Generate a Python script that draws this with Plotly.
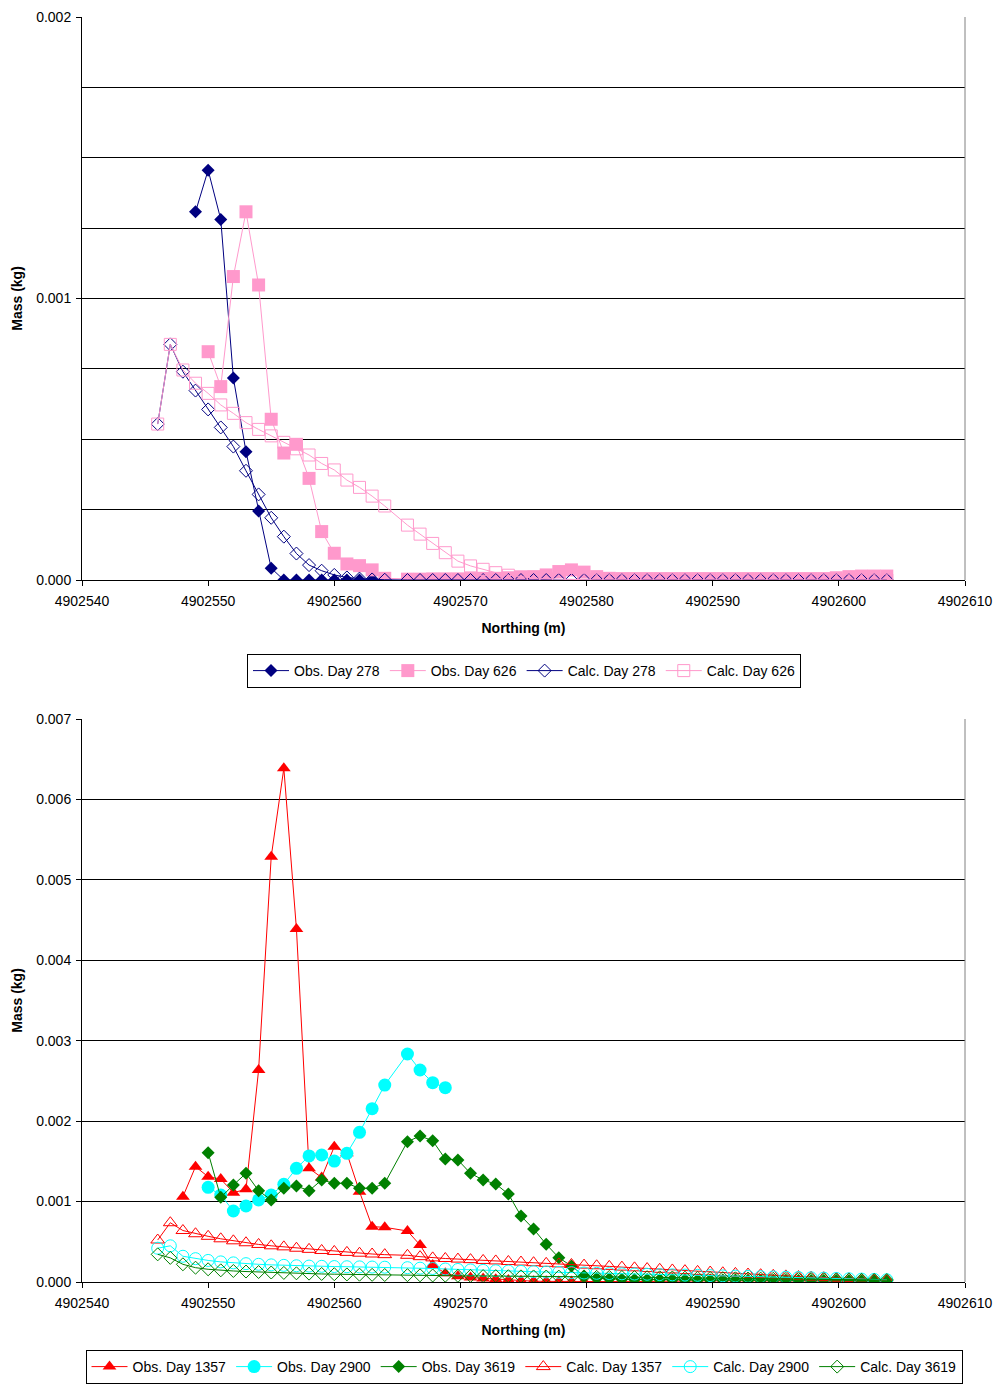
import plotly.graph_objects as go

# Northing positions of the sampling points (m)
NORTHING = [4902546, 4902547, 4902548, 4902549, 4902550, 4902551, 4902552, 4902553,
            4902554, 4902555, 4902556, 4902557, 4902558, 4902559, 4902560, 4902561,
            4902562, 4902563, 4902564,
            4902565.8, 4902566.8, 4902567.8, 4902568.8, 4902569.8, 4902570.8, 4902571.8,
            4902572.8, 4902573.8, 4902574.8, 4902575.8, 4902576.8, 4902577.8, 4902578.8,
            4902579.8, 4902580.8, 4902581.8, 4902582.8, 4902583.8, 4902584.8, 4902585.8,
            4902586.8, 4902587.8, 4902588.8, 4902589.8, 4902590.8, 4902591.8, 4902592.8,
            4902593.8, 4902594.8, 4902595.8, 4902596.8, 4902597.8, 4902598.8, 4902599.8,
            4902600.8, 4902601.8, 4902602.8, 4902603.8]

X_OBS_278 = NORTHING[3:18]
X_OBS_626 = NORTHING[4:]
X_OBS_1357 = NORTHING[2:]
X_OBS_2900 = NORTHING[4:23]
X_OBS_3619 = NORTHING[4:]

# Masses in grams (converted to kg for plotting)
OBS_278_G = [1.308, 1.456, 1.281, 0.718, 0.456, 0.245, 0.042, 0.0, 0.0, 0.0,
             0.0, 0.0, 0.0, 0.0, 0.0]
OBS_626_G = [0.811, 0.687, 1.078, 1.308, 1.048, 0.571, 0.451, 0.482, 0.361, 0.172,
             0.095, 0.057, 0.051, 0.036, 0.006,
             0.003, 0.003, 0.004, 0.004, 0.004, 0.005, 0.006, 0.006, 0.008, 0.010,
             0.012, 0.018, 0.030, 0.036, 0.028, 0.012,
             0.006, 0.005, 0.005, 0.005, 0.005, 0.005, 0.005, 0.005, 0.005, 0.005,
             0.005, 0.005, 0.005, 0.005, 0.005, 0.005, 0.005, 0.005,
             0.008, 0.012, 0.014, 0.014, 0.014]
CALC_278_G = [0.554, 0.837, 0.740, 0.673, 0.606, 0.542, 0.474, 0.388, 0.304, 0.221,
              0.154, 0.094, 0.053, 0.033, 0.018, 0.009, 0.005, 0.002, 0.001,
              0.0, 0.0, 0.0, 0.0, 0.0, 0.0, 0.0, 0.0, 0.0, 0.0,
              0.0, 0.0, 0.0, 0.0, 0.0, 0.0, 0.0, 0.0, 0.0, 0.0,
              0.0, 0.0, 0.0, 0.0, 0.0, 0.0, 0.0, 0.0, 0.0, 0.0,
              0.0, 0.0, 0.0, 0.0, 0.0, 0.0, 0.0, 0.0, 0.0]
CALC_626_G = [0.554, 0.837, 0.746, 0.699, 0.663, 0.622, 0.592, 0.559, 0.535, 0.512,
              0.489, 0.466, 0.444, 0.414, 0.391, 0.355, 0.329, 0.298, 0.263,
              0.195, 0.163, 0.130, 0.097, 0.067, 0.050, 0.038, 0.026, 0.017, 0.011,
              0.007, 0.005, 0.003, 0.002, 0.001, 0.0, 0.0, 0.0, 0.0, 0.0,
              0.0, 0.0, 0.0, 0.0, 0.0, 0.0, 0.0, 0.0, 0.0, 0.0,
              0.0, 0.0, 0.0, 0.0, 0.0, 0.0, 0.0, 0.0, 0.0]

OBS_1357_G = [1.061, 1.434, 1.309, 1.280, 1.111, 1.152, 2.636, 5.288, 6.387, 4.389,
              1.413, 1.300, 1.683, 1.600, 1.123, 0.688, 0.680,
              0.634, 0.460, 0.211, 0.108, 0.070, 0.055, 0.045, 0.035, 0.025, 0.015,
              0.010, 0.008, 0.006, 0.005, 0.005, 0.005, 0.005, 0.005, 0.005, 0.008,
              0.010, 0.012, 0.015, 0.015, 0.015, 0.015, 0.015, 0.015, 0.015, 0.015,
              0.015, 0.015, 0.015, 0.015, 0.015, 0.015, 0.015, 0.010, 0.010]
OBS_2900_G = [1.177, 1.082, 0.883, 0.945, 1.020, 1.082, 1.215, 1.413, 1.567, 1.579,
              1.504, 1.600, 1.861, 2.155, 2.449, 2.835, 2.636, 2.478, 2.416]
OBS_3619_G = [1.608, 1.053, 1.206, 1.351, 1.135, 1.020, 1.165, 1.194, 1.135, 1.268,
              1.227, 1.227, 1.165, 1.165, 1.227,
              1.745, 1.815, 1.757, 1.529, 1.517, 1.351, 1.268, 1.218, 1.094, 0.821,
              0.659, 0.469, 0.302, 0.199, 0.075, 0.046,
              0.040, 0.035, 0.032, 0.030, 0.030, 0.030, 0.028, 0.026, 0.025, 0.025,
              0.024, 0.023, 0.022, 0.022, 0.021, 0.020, 0.020, 0.019, 0.018, 0.017,
              0.016, 0.015, 0.015]
CALC_1357_G = [0.522, 0.737, 0.640, 0.600, 0.568, 0.537, 0.512, 0.488, 0.467, 0.450,
               0.437, 0.420, 0.406, 0.392, 0.380, 0.368, 0.358, 0.348, 0.340,
               0.332, 0.315, 0.300, 0.292, 0.285, 0.278, 0.268, 0.262, 0.255, 0.248,
               0.240, 0.232, 0.225, 0.218, 0.210, 0.202, 0.194, 0.185, 0.176, 0.167,
               0.158, 0.150, 0.141, 0.132, 0.124, 0.115, 0.107, 0.099, 0.091, 0.083,
               0.076, 0.068, 0.061, 0.054, 0.047, 0.041, 0.035, 0.030, 0.025]
CALC_2900_G = [0.420, 0.450, 0.320, 0.290, 0.268, 0.250, 0.238, 0.228, 0.220, 0.213,
               0.207, 0.202, 0.198, 0.195, 0.192, 0.190, 0.188, 0.186, 0.184,
               0.178, 0.172, 0.168, 0.162, 0.156, 0.150, 0.145, 0.140, 0.136, 0.132,
               0.128, 0.124, 0.120, 0.116, 0.112, 0.108, 0.105, 0.102, 0.099, 0.096,
               0.092, 0.089, 0.086, 0.083, 0.080, 0.076, 0.073, 0.070, 0.066, 0.063,
               0.060, 0.056, 0.052, 0.048, 0.044, 0.040, 0.036, 0.032, 0.028]
CALC_3619_G = [0.344, 0.300, 0.220, 0.178, 0.158, 0.145, 0.137, 0.130, 0.124, 0.118,
               0.113, 0.108, 0.104, 0.100, 0.097, 0.094, 0.091, 0.089, 0.087,
               0.085, 0.083, 0.081, 0.079, 0.077, 0.076, 0.074, 0.073, 0.072, 0.070,
               0.069, 0.068, 0.067, 0.066, 0.065, 0.064, 0.063, 0.062, 0.061, 0.060,
               0.058, 0.056, 0.054, 0.052, 0.050, 0.048, 0.046, 0.044, 0.042, 0.040,
               0.038, 0.036, 0.034, 0.032, 0.030, 0.028, 0.027, 0.026, 0.025]


def kg(values):
    return [v / 1000.0 for v in values]


NAVY = "#000080"
PINK = "#FF99CC"
RED = "#FF0000"
CYAN = "#00FFFF"
GREEN = "#008000"

FONT = "Liberation Sans, Arial, sans-serif"

fig = go.Figure()


def add(x, y, name, color, symbol, size, xa, ya, legend, filled=True):
    marker = dict(symbol=symbol, size=size, color=color)
    if filled:
        marker["line"] = dict(width=0, color=color)
    else:
        marker["line"] = dict(width=1, color=color)
    fig.add_trace(go.Scatter(
        x=x, y=kg(y), name=name, mode="lines+markers",
        line=dict(color=color, width=1), marker=marker,
        xaxis=xa, yaxis=ya, legend=legend))


# Top chart
add(X_OBS_278, OBS_278_G, "Obs. Day 278", NAVY, "diamond", 10, "x", "y", "legend")
add(X_OBS_626, OBS_626_G, "Obs. Day 626", PINK, "square", 13, "x", "y", "legend")
add(NORTHING, CALC_278_G, "Calc. Day 278", NAVY, "diamond-open", 10, "x", "y", "legend", False)
add(NORTHING, CALC_626_G, "Calc. Day 626", PINK, "square-open", 12, "x", "y", "legend", False)

# Bottom chart
add(X_OBS_1357, OBS_1357_G, "Obs. Day 1357", RED, "triangle-up", 12, "x2", "y2", "legend2")
add(X_OBS_2900, OBS_2900_G, "Obs. Day 2900", CYAN, "circle", 13, "x2", "y2", "legend2")
add(X_OBS_3619, OBS_3619_G, "Obs. Day 3619", GREEN, "diamond", 10, "x2", "y2", "legend2")
add(NORTHING, CALC_1357_G, "Calc. Day 1357", RED, "triangle-up-open", 12, "x2", "y2", "legend2", False)
add(NORTHING, CALC_2900_G, "Calc. Day 2900", CYAN, "circle-open", 12, "x2", "y2", "legend2", False)
add(NORTHING, CALC_3619_G, "Calc. Day 3619", GREEN, "diamond-open", 10, "x2", "y2", "legend2", False)

H = 1385.0
top_dom = [1 - 580 / H, 1 - 17 / H]
bot_dom = [1 - 1282 / H, 1 - 719 / H]

xcommon = dict(range=[4902540, 4902610], tick0=4902540, dtick=10, tickformat="d",
               showgrid=False, zeroline=False, showline=True, linecolor="black",
               linewidth=1, ticks="outside", ticklen=5, tickcolor="black",
               automargin=False, ticklabelstandoff=3,
               tickfont=dict(size=14, family=FONT),
               title=dict(text="<b>Northing (m)</b>", font=dict(size=14, family=FONT),
                          standoff=15))
ycommon = dict(dtick=0.001, tickformat=".3f", showgrid=True, gridcolor="black",
               gridwidth=1, zeroline=False, showline=True, linecolor="black",
               linewidth=1, ticks="outside", ticklen=5, tickcolor="black",
               automargin=False, ticklabelstandoff=2,
               tickfont=dict(size=14, family=FONT),
               title=dict(text="<b>Mass (kg)</b>", font=dict(size=14, family=FONT),
                          standoff=10))

fig.update_layout(
    width=1000, height=1385,
    margin=dict(l=0, r=0, t=0, b=0, autoexpand=False),
    paper_bgcolor="white", plot_bgcolor="white",
    font=dict(family=FONT, size=14, color="black"),
    xaxis=dict(domain=[0.082, 0.965], anchor="y", **xcommon),
    yaxis=dict(domain=top_dom, anchor="x", range=[0, 0.002],
               minor=dict(dtick=0.00025, showgrid=True, gridcolor="black", gridwidth=1),
               **ycommon),
    xaxis2=dict(domain=[0.082, 0.965], anchor="y2", **xcommon),
    yaxis2=dict(domain=bot_dom, anchor="x2", range=[0, 0.007], **ycommon),
    legend=dict(orientation="h", x=0.524, xanchor="center", y=1 - 654 / H,
                yanchor="top", bordercolor="black", borderwidth=1, bgcolor="white",
                font=dict(size=14, family=FONT), itemwidth=36),
    legend2=dict(orientation="h", x=0.524, xanchor="center", y=1 - 1384 / H,
                 yanchor="bottom", bordercolor="black", borderwidth=1, bgcolor="white",
                 font=dict(size=14, family=FONT), itemwidth=36),
    showlegend=True,
)

for xr, yr in (("x", "y"), ("x2", "y2")):
    fig.add_shape(type="line", xref=f"{xr} domain", yref=f"{yr} domain",
                  x0=1, x1=1, y0=0, y1=1, line=dict(color="#808080", width=1))

fig.write_html("out.html")
